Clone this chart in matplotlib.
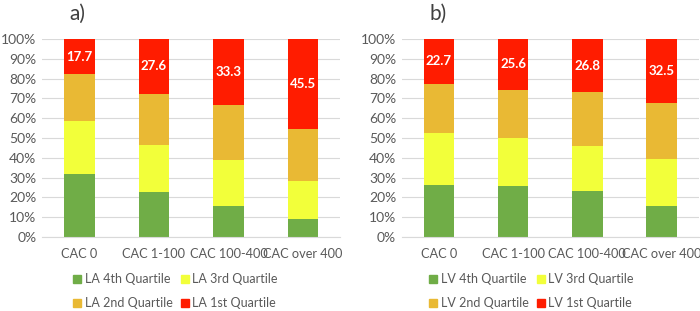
import numpy as np
import matplotlib
matplotlib.use("Agg")
import matplotlib.pyplot as plt
from matplotlib.lines import Line2D

plt.rcParams['font.family'] = ['Lato', 'DejaVu Sans']

categories = ['CAC 0', 'CAC 1-100', 'CAC 100-400', 'CAC over 400']
quartiles = ['4th Quartile', '3rd Quartile', '2nd Quartile', '1st Quartile']

# panel a) LA
la_q4 = [31.8, 22.7, 15.4, 9.0]
la_q3 = [26.6, 23.8, 23.5, 19.3]
la_q2 = [23.9, 25.9, 27.8, 26.2]
la_q1 = [17.7, 27.6, 33.3, 45.5]

# panel b) LV
lv_q4 = [26.2, 26.0, 23.4, 15.6]
lv_q3 = [26.3, 24.2, 22.7, 23.8]
lv_q2 = [24.8, 24.2, 27.1, 28.1]
lv_q1 = [22.7, 25.6, 26.8, 32.5]

colors = ['#70AD47', '#F2FF3A', '#E9B934', '#FF1C00']
gray = '#595959'

fig = plt.figure(figsize=(7, 3.11), dpi=100)


def panel(rect, series, prefix, title, title_x, legend_x):
    ax = fig.add_axes(rect)
    x = np.arange(len(categories))
    bottom = np.zeros(len(categories))
    for vals, c in zip(series, colors):
        ax.bar(x, vals, width=0.41, bottom=bottom, color=c, zorder=2)
        bottom = bottom + np.array(vals)
    top = series[-1]
    for xi, v in zip(x, top):
        ax.text(xi, 100 - v / 2, '%.1f' % v, ha='center', va='center',
                color='white', fontsize=9.5, fontweight='bold', zorder=3)
    ax.set_xlim(-0.5, 3.5)
    ax.set_ylim(0, 100)
    ax.set_yticks(np.arange(0, 101, 10))
    ax.set_yticklabels(['%d%%' % v for v in range(0, 101, 10)])
    ax.set_xticks(x)
    ax.set_xticklabels(categories)
    ax.grid(axis='y', color='#D9D9D9', linewidth=0.8, zorder=0)
    for s in ['top', 'right', 'left']:
        ax.spines[s].set_visible(False)
    ax.spines['bottom'].set_color('#D9D9D9')
    ax.tick_params(length=0, labelsize=10, labelcolor=gray)
    ax.tick_params(axis='x', pad=8, labelsize=9.2)
    ax.tick_params(axis='y', pad=4)
    fig.text(title_x, 1 - 14 / 311, title, fontsize=15, color='#404040',
             ha='center', va='center')
    handles = [Line2D([], [], marker='s', linestyle='none', markersize=6,
                      color=c) for c in colors]
    labels = [prefix + ' ' + q for q in quartiles]
    order = [0, 2, 1, 3]
    fig.legend([handles[i] for i in order], [labels[i] for i in order],
               ncol=2, loc='upper center',
               bbox_to_anchor=(legend_x, 1 - 263 / 311),
               frameon=False, fontsize=9, labelcolor=gray,
               handletextpad=0.2, columnspacing=0.6, labelspacing=0.95,
               handlelength=0.8, borderpad=0.3)
    return ax


ax1 = panel([0.06, 0.238, 0.426, 0.6366],
            [la_q4, la_q3, la_q2, la_q1], 'LA', 'a)', 77 / 700, 175 / 700)
ax2 = panel([0.574, 0.238, 0.424, 0.6366],
            [lv_q4, lv_q3, lv_q2, lv_q1], 'LV', 'b)', 438 / 700, 531 / 700)

fig.savefig('out.png', dpi=100)
